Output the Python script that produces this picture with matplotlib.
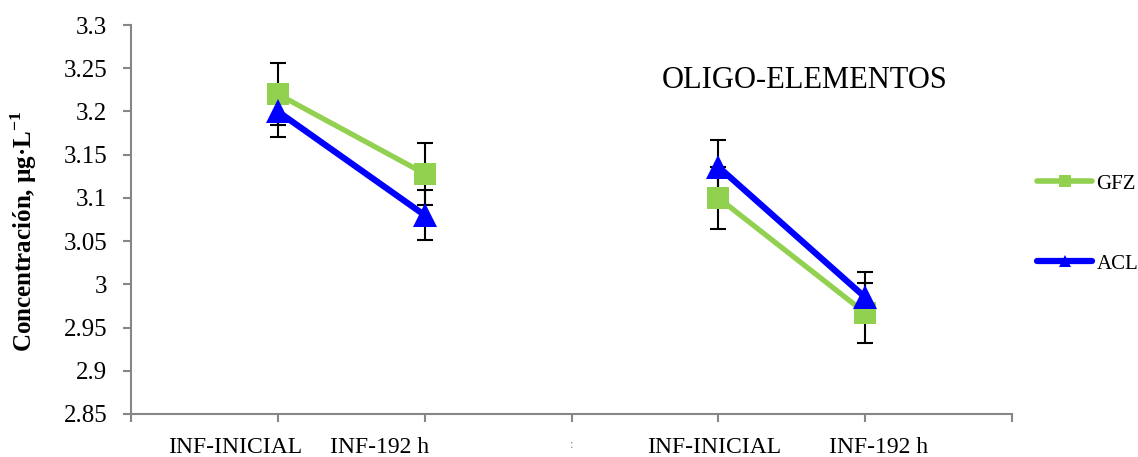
import matplotlib.pyplot as plt
from matplotlib.lines import Line2D
import numpy as np

# datos
x_pos = [1, 2, 4, 5]
gfz = [3.22, 3.128, 3.10, 2.967]
gfz_err = [0.036, 0.036, 0.036, 0.035]
acl = [3.20, 3.08, 3.136, 2.985]
acl_err = [0.03, 0.029, 0.031, 0.029]
grupos = [(0, 2), (2, 4)]

etiquetas = ["INF-INICIAL", "INF-192 h", ":", "INF-INICIAL", "INF-192 h"]
etiquetas_x = [0.71, 1.69, 3.0, 3.97, 5.09]

verde = "#92D050"
azul = "#0000FF"
gris = "#868686"

plt.rcParams['font.family'] = ['Liberation Serif', 'DejaVu Serif']

fig = plt.figure(figsize=(11.38, 4.57), dpi=100)
ax = fig.add_axes([131/1138, 1 - 414/457, (1012-131)/1138, (414-25)/457])

x = np.array(x_pos)
g = np.array(gfz)
a = np.array(acl)
for i0, i1 in grupos:
    xs = x[i0:i1]
    ax.errorbar(xs, g[i0:i1], yerr=gfz_err[i0:i1], fmt="none", ecolor="black",
                elinewidth=1.5, capsize=6, capthick=1.5, zorder=2)
    ax.errorbar(xs, a[i0:i1], yerr=acl_err[i0:i1], fmt="none", ecolor="black",
                elinewidth=1.5, capsize=6, capthick=1.5, zorder=2)
    ax.plot(xs, g[i0:i1], color=verde, lw=3.8, marker="s", markersize=16,
            markeredgewidth=0, zorder=3)
    ax.plot(xs, a[i0:i1], color=azul, lw=4.5, marker="^", markersize=17,
            markeredgewidth=0, zorder=4)

ax.set_xlim(0, 6)
ax.set_ylim(2.85, 3.3)
ax.set_yticks(np.arange(2.85, 3.3001, 0.05))
ax.set_yticklabels(["2.85", "2.9", "2.95", "3", "3.05", "3.1", "3.15", "3.2", "3.25", "3.3"])
ax.set_xticks(range(7))
ax.set_xticklabels([])

for s in ["top", "right"]:
    ax.spines[s].set_visible(False)
for s in ["left", "bottom"]:
    ax.spines[s].set_color(gris)
    ax.spines[s].set_linewidth(1.5)
ax.tick_params(axis="both", colors=gris, width=1.5, length=6, direction="out")
ax.tick_params(axis="y", labelcolor="black", labelsize=18, pad=11)

# etiquetas del eje x colocadas a mano
for lx, txt in zip(etiquetas_x, etiquetas):
    if txt == ":":
        ax.text(lx, 2.85 - 31/864, txt, ha="center", va="center",
                fontsize=9, color=gris, clip_on=False)
    else:
        ax.text(lx, 2.85 - 33/864, txt, ha="center", va="center",
                fontsize=17, clip_on=False)

ax.set_ylabel("Concentración, µg·L$^{\\mathregular{-1}}$", fontsize=18,
              fontweight="bold")
ax.yaxis.set_label_coords(-92/881, 0.47)

fig.text(805/1138, 1 - 80/457, "OLIGO-ELEMENTOS", fontsize=22,
         ha="center", va="center")

handles = [Line2D([], [], color=verde, lw=4, marker="s", markersize=9, markeredgewidth=0,
                  solid_capstyle="round"),
           Line2D([], [], color=azul, lw=4.5, marker="^", markersize=9, markeredgewidth=0,
                  solid_capstyle="round")]
fig.legend(handles, ["GFZ", "ACL"], loc="center left",
           bbox_to_anchor=(1037/1138, 1 - 224/457), frameon=False, borderpad=0,
           borderaxespad=0, fontsize=15, handlelength=2.65, handletextpad=0.2,
           labelspacing=2.9)

fig.savefig("out.png", dpi=100)
